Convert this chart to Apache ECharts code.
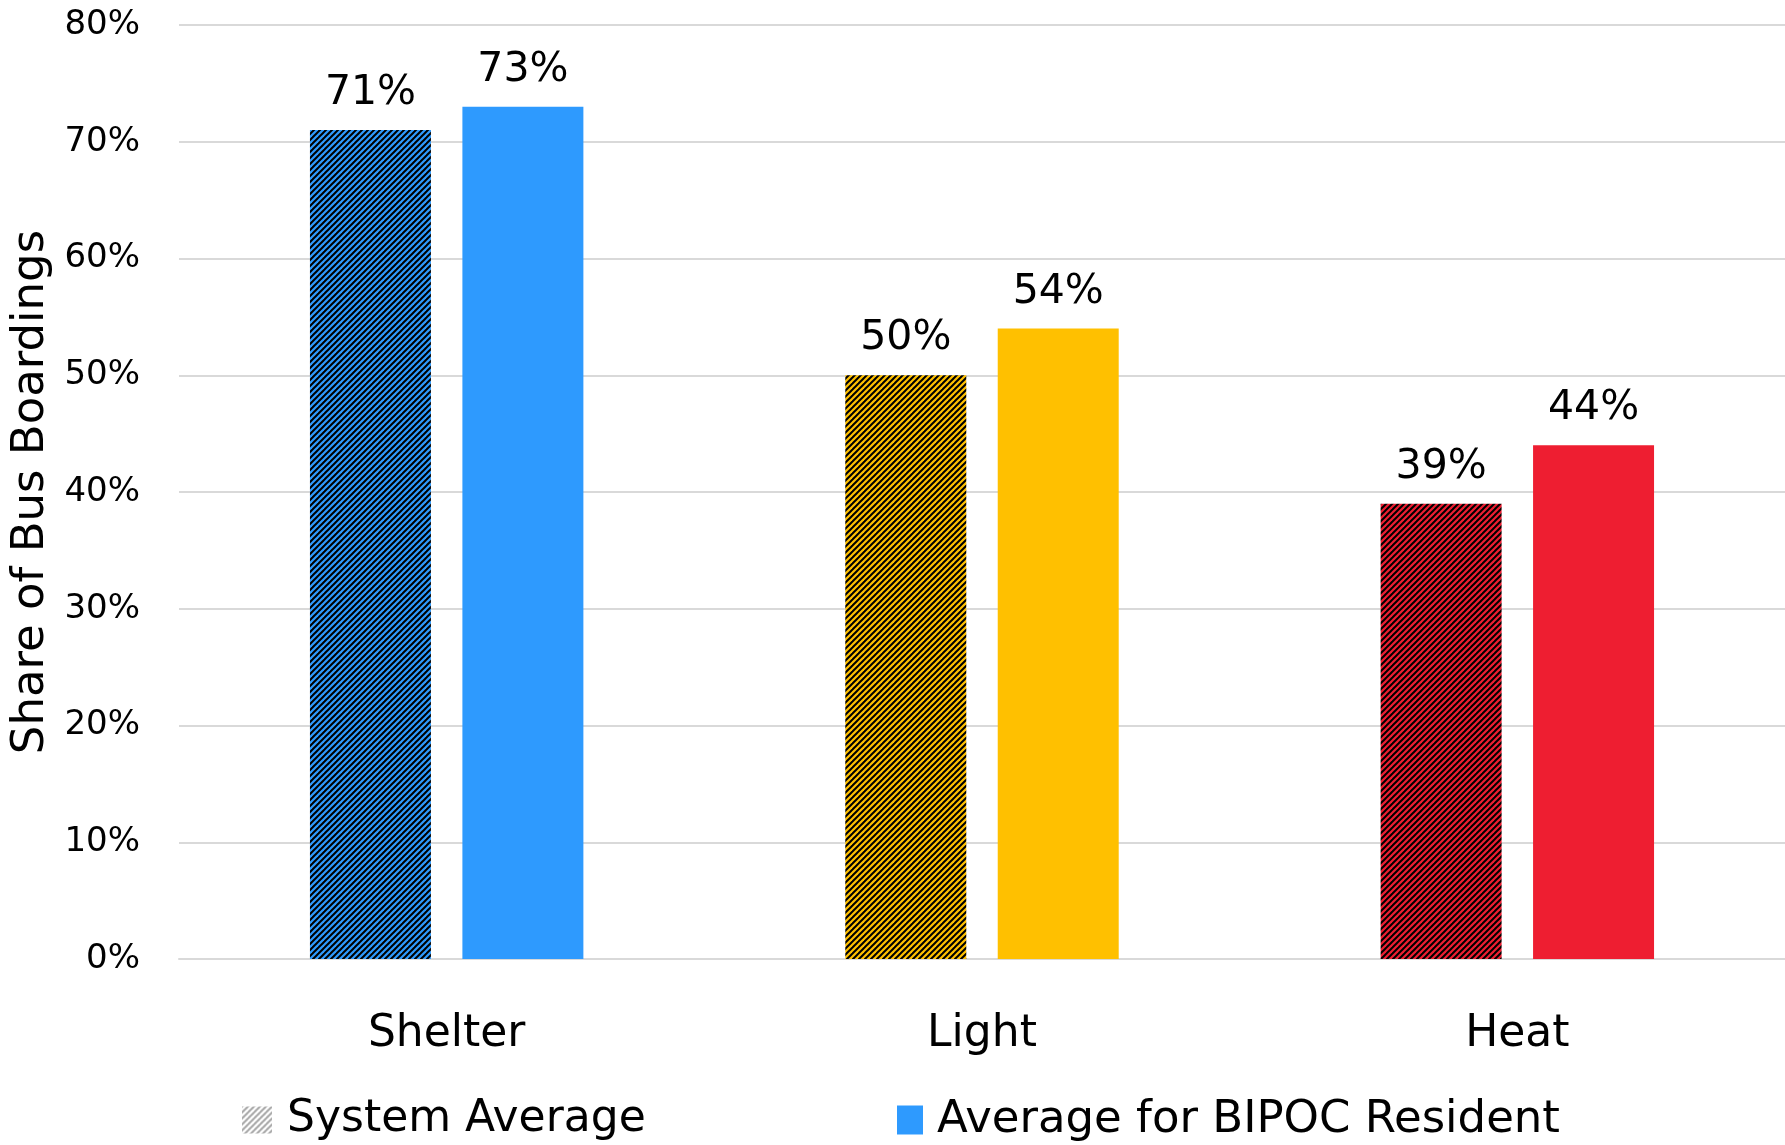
<!DOCTYPE html>
<html>
<head>
<meta charset="utf-8">
<script src="https://cdn.jsdelivr.net/npm/echarts@6/dist/echarts.min.js"></script>
<style>
html,body{margin:0;padding:0;background:#fff;overflow:hidden;}
#chart{width:1785px;height:1145px;}
</style>
</head>
<body>
<div id="chart"></div>
<script>
const categories = ['Shelter', 'Light', 'Heat'];
const systemAverage = [71, 50, 39];
const bipocAverage = [73, 54, 44];
const yTicks = [0, 10, 20, 30, 40, 50, 60, 70, 80];
const seriesNames = ['System Average', 'Average for BIPOC Resident'];
const colors = ['#2E9AFE', '#FFC000', '#EE1E31'];
const grayHatch = '#A8A8A8';

function hatch(base, stripe) {
  const s = 6;
  const c = document.createElement('canvas');
  c.width = s; c.height = s;
  const ctx = c.getContext('2d');
  ctx.fillStyle = base;
  ctx.fillRect(0, 0, s, s);
  ctx.strokeStyle = stripe;
  ctx.lineWidth = 2;
  [0, s, 2 * s].forEach(function (k) {
    ctx.beginPath();
    ctx.moveTo(k + 1, -1);
    ctx.lineTo(k - s - 1, s + 1);
    ctx.stroke();
  });
  return { image: c, repeat: 'repeat' };
}

const FONT = 'DejaVu Sans';
const chart = echarts.init(document.getElementById('chart'), null, { renderer: 'canvas' });

chart.setOption({
  animation: false,
  backgroundColor: '#fff',
  textStyle: { fontFamily: FONT, color: '#000' },
  grid: { left: 179, right: 0, top: 25, bottom: 186, containLabel: false, outerBoundsMode: 'none' },
  legend: [
    {
      data: [seriesNames[0]],
      left: 242, top: 1097, padding: 0,
      itemWidth: 30, itemHeight: 27,
      icon: 'rect',
      textStyle: { fontFamily: FONT, fontSize: 44, lineHeight: 46, color: '#000', padding: [0, 0, 0, 10] }
    },
    {
      data: [seriesNames[1]],
      left: 897, top: 1097, padding: 0,
      itemWidth: 26, itemHeight: 29,
      icon: 'rect',
      textStyle: { fontFamily: FONT, fontSize: 45, lineHeight: 46, color: '#000', padding: [0, 0, 0, 9] }
    }
  ],
  xAxis: {
    type: 'category',
    data: categories,
    axisLine: { show: true, lineStyle: { color: '#D9D9D9', width: 2 } },
    axisTick: { show: false },
    axisLabel: { fontFamily: FONT, fontSize: 44, color: '#000', margin: 76, verticalAlign: 'middle' }
  },
  yAxis: {
    type: 'value',
    min: yTicks[0], max: yTicks[yTicks.length - 1], interval: 10,
    name: 'Share of Bus Boardings',
    nameLocation: 'middle',
    nameRotate: 90,
    nameGap: 113,
    nameTextStyle: { fontFamily: FONT, fontSize: 45, color: '#000' },
    axisLine: { show: false },
    axisTick: { show: false },
    splitLine: { lineStyle: { color: '#D9D9D9', width: 2 } },
    axisLabel: { fontFamily: FONT, fontSize: 34, color: '#000', margin: 39, formatter: '{value}%' }
  },
  series: [
    {
      name: seriesNames[0],
      type: 'bar',
      barWidth: '22.6%',
      barGap: '26%',
      itemStyle: { color: hatch('#FFFFFF', grayHatch) },
      data: systemAverage.map(function (v, i) {
        return { value: v, itemStyle: { color: hatch(colors[i], '#000000') } };
      }),
      label: { show: true, position: 'top', distance: 16, fontFamily: FONT, fontSize: 41, color: '#000', formatter: '{c}%' }
    },
    {
      name: seriesNames[1],
      type: 'bar',
      barWidth: '22.6%',
      itemStyle: { color: colors[0] },
      data: bipocAverage.map(function (v, i) {
        return { value: v, itemStyle: { color: colors[i] } };
      }),
      label: { show: true, position: 'top', distance: 16, fontFamily: FONT, fontSize: 41, color: '#000', formatter: '{c}%' }
    }
  ]
});
</script>
</body>
</html>
